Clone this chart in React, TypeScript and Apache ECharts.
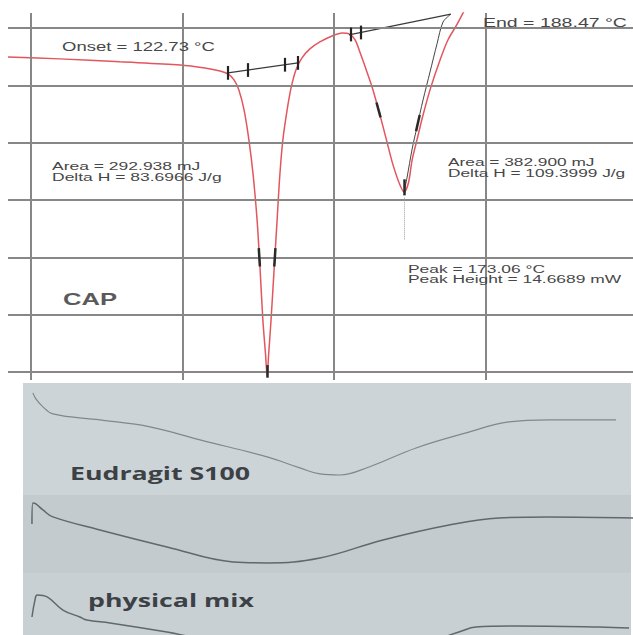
import { useEffect, useRef } from "react";
import * as echarts from "echarts";

// ---- CAP thermogram (temperature in °C, heat flow in mW) ----
const capTemp = [42.5, 59.6, 79.4, 99.2, 107.4, 112.4, 115.0, 117.0, 118.6, 120.3, 121.9, 123.3, 124.6, 125.6, 126.5, 127.4, 127.9, 128.4, 129.2, 130.2, 131.2, 132.1, 133.1, 134.5, 135.8, 137.4, 139.4, 142.0, 145.3, 149.3, 152.6, 154.9, 156.9, 158.8, 160.8, 162.8, 165.1, 167.4, 169.4, 171.7, 173.06, 174.5, 175.7, 177.3, 179.3, 181.9, 184.9, 187.5, 190.2, 192.5, 193.8];
const capFlow = [27.47, 27.3, 27.04, 26.77, 26.51, 26.25, 25.99, 25.47, 24.59, 22.85, 20.24, 17.18, 13.26, 8.9, 4.54, 1.49, -0.34, 1.49, 4.54, 8.9, 13.26, 17.18, 20.24, 22.85, 24.77, 26.34, 27.38, 28.17, 28.78, 29.3, 29.56, 29.48, 28.95, 27.65, 26.16, 24.59, 22.41, 20.06, 18.06, 16.3, 15.7, 16.5, 18.49, 20.24, 22.41, 24.86, 27.21, 28.95, 30.17, 31.31, 32.0];

// integration curve on the rising side of the second peak
const fitTemp = [173.06, 174.0, 175.7, 177.3, 179.3, 181.6, 183.9, 185.9, 188.47];
const fitFlow = [15.7, 16.92, 19.44, 21.37, 23.72, 26.16, 28.61, 30.52, 31.2];

// integration baselines [startT, endT], [startH, endH]
const base1Temp = [115.0, 138.1];
const base1Flow = [26.08, 26.95];
const base2Temp = [154.9, 188.47];
const base2Flow = [29.39, 31.2];
const base1Ticks = [115.0, 121.6, 133.8, 138.1];
const base2Ticks = [155.6, 158.8, 188.47];

// partial-area marks on the peak flanks: [T1, H1, T2, H2]
const flankMarks = [
  [125.16, 10.8, 125.53, 9.2],
  [130.27, 9.2, 130.64, 10.8],
  [127.9, -0.5, 127.9, 0.6],
  [163.95, 23.5, 165.3, 22.2],
  [177.0, 21.0, 178.2, 22.4],
  [173.06, 16.8, 173.06, 15.4],
];
const peakDrop = [173.06, 15.2, 173.06, 11.5];

const gridTemps = [50, 100, 150, 200];
const gridFlows = [0, 5, 10, 15, 20, 25, 30];

// ---- lower thermograms (arbitrary heat-flow offset units) ----
const eudTemp = [50.7, 51.7, 53.7, 57.3, 72.8, 89.3, 105.8, 127.9, 138.7, 145.3, 151.9, 161.5, 177.0, 193.5, 207.6, 220.8, 242.9];
const eudFlow = [21.14, 20.61, 20.0, 19.3, 18.78, 18.17, 17.03, 15.55, 14.59, 14.06, 13.97, 14.67, 16.33, 17.64, 18.6, 18.78, 18.78];

const midTemp = [50.4, 50.7, 51.7, 54.0, 57.3, 72.8, 94.9, 116.7, 127.9, 145.3, 166.1, 187.9, 204.3, 220.8, 248.5];
const midFlow = [9.69, 11.53, 11.44, 10.92, 10.31, 9.17, 7.69, 6.38, 6.29, 6.72, 8.3, 9.61, 10.22, 10.31, 10.22];

const mixTemp = [50.4, 51.4, 52.1, 55.4, 60.6, 66.2, 68.5, 76.1, 94.9, 105.8, 138.7, 181.6, 191.1, 196.7, 209.9, 237.3, 247.2];
const mixFlow = [1.57, 3.06, 3.49, 3.32, 2.18, 1.57, 1.31, 1.05, 0.26, -0.26, -0.87, -0.44, 0.26, 0.7, 0.79, 0.7, 0.61];

const zip = (a: number[], b: number[]) => a.map((v, i) => [v, b[i]]);
const lerp = (t: number, ts: number[], hs: number[]) =>
  hs[0] + ((t - ts[0]) / (ts[1] - ts[0])) * (hs[1] - hs[0]);

function textScale(text: string, font: string, width: number): number {
  const ctx = document.createElement("canvas").getContext("2d");
  if (!ctx) return 1;
  ctx.font = font;
  const w = ctx.measureText(text).width;
  return w > 0 ? width / w : 1;
}

function label(
  text: string,
  x: number,
  y: number,
  size: number,
  scaleX: number,
  fill: string,
  weight: string = "normal",
  family: string = "Liberation Sans"
) {
  return {
    type: "text",
    x,
    y,
    scaleX,
    z: 100,
    silent: true,
    style: {
      text,
      fontSize: size,
      fontWeight: weight,
      fontFamily: family,
      fill,
      textAlign: "left",
      textVerticalAlign: "middle",
      verticalAlign: "middle",
    },
  };
}

export default function App() {
  const ref = useRef<HTMLDivElement>(null);

  useEffect(() => {
    if (!ref.current) return;
    const chart = echarts.init(ref.current, null, { renderer: "svg" });

    const small = "12px 'Liberation Sans'";
    const sOnset = textScale("Onset = 122.73 °C", small, 153);
    const sEnd = textScale("End = 188.47 °C", small, 144);
    const sArea1 = textScale("Delta H = 83.6966 J/g", small, 177);
    const sArea2 = textScale("Area = 382.900 mJ", small, 153);
    const sPeak = textScale("Peak = 173.06 °C", small, 143);
    const sCap = textScale("CAP", "bold 17px 'Liberation Sans'", 54);
    const sEud = textScale("Eudragit S100", "bold 18px 'Open Sans'", 180);
    const sMix = textScale("physical mix", "bold 18px 'Open Sans'", 166);

    const tickSegs = [
      ...base1Ticks.map((t) => {
        const h = lerp(t, base1Temp, base1Flow);
        return [{ coord: [t, h - 0.6] }, { coord: [t, h + 0.6] }];
      }),
      ...base2Ticks.map((t) => {
        const h = lerp(t, base2Temp, base2Flow);
        return [{ coord: [t, h - 0.6] }, { coord: [t, h + 0.6] }];
      }),
    ];

    const textColor = "#474747";

    chart.setOption({
      animation: false,
      backgroundColor: "#ffffff",
      grid: [
        { left: 8, right: 0, top: 13, height: 367 },
        { left: 8, right: 0, top: 383, height: 252 },
      ],
      xAxis: [
        { type: "value", gridIndex: 0, min: 42.5, max: 248.5, show: false },
        { type: "value", gridIndex: 1, min: 42.5, max: 248.5, show: false },
      ],
      yAxis: [
        { type: "value", gridIndex: 0, min: -0.7, max: 31.3, show: false },
        { type: "value", gridIndex: 1, min: 0, max: 22, show: false },
      ],
      graphic: [
        { type: "rect", z: 0, silent: true, shape: { x: 23, y: 383, width: 608, height: 112 }, style: { fill: "#cdd4d7" } },
        { type: "rect", z: 0, silent: true, shape: { x: 23, y: 495, width: 608, height: 78 }, style: { fill: "#c3cbce" } },
        { type: "rect", z: 0, silent: true, shape: { x: 23, y: 573, width: 608, height: 62 }, style: { fill: "#c9d0d3" } },
        label("Onset = 122.73 °C", 62, 47, 12, sOnset, textColor),
        label("End = 188.47 °C", 483, 23, 12, sEnd, textColor),
        label("Area = 292.938 mJ", 52, 166, 11.5, sArea1, textColor),
        label("Delta H = 83.6966 J/g", 52, 177, 11.5, sArea1, textColor),
        label("Area = 382.900 mJ", 448, 162, 11.5, sArea2, textColor),
        label("Delta H = 109.3999 J/g", 448, 173, 11.5, sArea2, textColor),
        label("Peak = 173.06 °C", 408, 269, 11.5, sPeak, textColor),
        label("Peak Height = 14.6689 mW", 408, 279, 11.5, sPeak, textColor),
        label("CAP", 63, 299, 17, sCap, "#5a5a5a", "bold"),
        label("Eudragit S100", 70, 473, 18, sEud, "#3c4145", "bold", "Open Sans"),
        label("physical mix", 88, 600, 18, sMix, "#3c4145", "bold", "Open Sans"),
      ],
      series: [
        {
          // chart-paper grid
          type: "line",
          xAxisIndex: 0,
          yAxisIndex: 0,
          data: [[gridTemps[0], gridFlows[0]]],
          showSymbol: false,
          lineStyle: { opacity: 0 },
          silent: true,
          z: 1,
          markLine: {
            silent: true,
            symbol: "none",
            label: { show: false },
            lineStyle: { color: "#878787", width: 2, type: "solid" },
            data: [
              ...gridTemps.map((t) => ({ xAxis: t })),
              ...gridFlows.map((h) => ({ yAxis: h })),
            ],
          },
        },
        {
          type: "line",
          name: "CAP",
          xAxisIndex: 0,
          yAxisIndex: 0,
          data: zip(capTemp, capFlow),
          showSymbol: false,
          smooth: 0.3,
          lineStyle: { color: "#e2565e", width: 1.5 },
          z: 3,
        },
        {
          type: "line",
          name: "fit",
          xAxisIndex: 0,
          yAxisIndex: 0,
          data: zip(fitTemp, fitFlow),
          showSymbol: false,
          smooth: 0.3,
          lineStyle: { color: "#444444", width: 1 },
          z: 4,
        },
        {
          type: "line",
          name: "baseline 1",
          xAxisIndex: 0,
          yAxisIndex: 0,
          data: zip(base1Temp, base1Flow),
          showSymbol: false,
          lineStyle: { color: "#3a3a3a", width: 1.2 },
          z: 4,
          markLine: {
            silent: true,
            symbol: "none",
            label: { show: false },
            lineStyle: { color: "#222222", width: 2.2, type: "solid" },
            data: tickSegs,
          },
        },
        {
          type: "line",
          name: "baseline 2",
          xAxisIndex: 0,
          yAxisIndex: 0,
          data: zip(base2Temp, base2Flow),
          showSymbol: false,
          lineStyle: { color: "#3a3a3a", width: 1.2 },
          z: 4,
          markLine: {
            silent: true,
            symbol: "none",
            label: { show: false },
            data: [
              ...flankMarks.map((m) => [
                { coord: [m[0], m[1]], lineStyle: { color: "#2a2a2a", width: 2.5, type: "solid" } },
                { coord: [m[2], m[3]] },
              ]),
              [
                { coord: [peakDrop[0], peakDrop[1]], lineStyle: { color: "#9a9a9a", width: 1, type: "dotted" } },
                { coord: [peakDrop[2], peakDrop[3]] },
              ],
            ],
          },
        },
        {
          type: "line",
          name: "Eudragit S100",
          xAxisIndex: 1,
          yAxisIndex: 1,
          data: zip(eudTemp, eudFlow),
          showSymbol: false,
          smooth: 0.4,
          lineStyle: { color: "#7f888d", width: 1.2 },
          z: 3,
        },
        {
          type: "line",
          name: "trace 2",
          xAxisIndex: 1,
          yAxisIndex: 1,
          data: zip(midTemp, midFlow),
          showSymbol: false,
          smooth: 0.4,
          lineStyle: { color: "#5f686d", width: 1.5 },
          z: 3,
        },
        {
          type: "line",
          name: "physical mix",
          xAxisIndex: 1,
          yAxisIndex: 1,
          data: zip(mixTemp, mixFlow),
          showSymbol: false,
          smooth: 0.4,
          lineStyle: { color: "#5f686d", width: 1.5 },
          z: 3,
        },
      ],
    });

    return () => chart.dispose();
  }, []);

  return (
    <div
      ref={ref}
      style={{ position: "fixed", left: 0, top: 0, width: 633, height: 635, background: "#ffffff" }}
    />
  );
}
